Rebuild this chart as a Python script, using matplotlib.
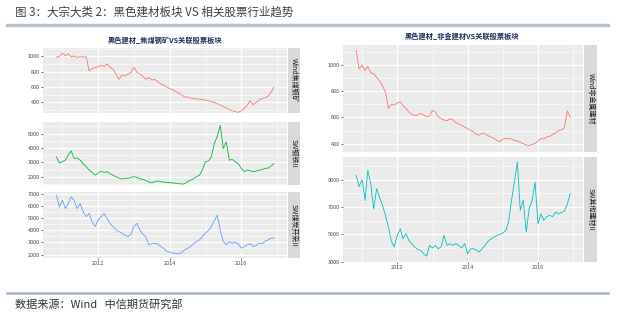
import pandas as pd
import matplotlib
matplotlib.use('Agg')
import matplotlib.pyplot as plt
import matplotlib.dates as mdates
from matplotlib.ticker import MultipleLocator
from matplotlib.lines import Line2D

plt.rcParams['font.family'] = ['Noto Sans CJK SC', 'DejaVu Sans']

# monthly readings, 2010-11 .. 2016-12
dates = pd.date_range('2010-11-01', '2016-12-01', freq='MS')

wind_coal = [990, 1000,
             1040, 1010, 1030, 995, 1005, 985, 1000, 990, 995, 810, 840, 855,
             865, 880, 870, 900, 860, 830, 770, 700, 760, 745, 770, 790,
             855, 790, 770, 740, 700, 720, 690, 700, 670, 640, 625, 600,
             580, 565, 545, 520, 500, 470, 470, 455, 450, 445, 440, 435,
             430, 420, 410, 400, 380, 365, 345, 330, 305, 290, 280, 270,
             290, 320, 360, 420, 370, 400, 430, 450, 460, 480, 530, 600]

sw_steel = [3380, 2950,
            3050, 3150, 3500, 3800, 3270, 3300, 3150, 2900, 2700, 2450, 2300, 2110,
            2250, 2390, 2300, 2350, 2200, 2100, 2000, 1900, 1840, 1900, 1880, 1950,
            2000, 1950, 1850, 1810, 1750, 1620, 1580, 1650, 1700, 1650, 1620, 1600,
            1580, 1560, 1540, 1520, 1490, 1500, 1650, 1750, 1850, 2000, 2100, 2500,
            3040, 3100, 3380, 4310, 4800, 5580, 3960, 4420, 3150, 3200, 3040, 2900,
            2600, 2350, 2460, 2420, 2350, 2400, 2450, 2500, 2580, 2600, 2750, 2920]

sw_coal = [6920, 5960,
           6500, 5820, 6230, 6780, 6500, 5820, 6230, 5550, 5140, 5410, 4700, 4320,
           4860, 5140, 5410, 5000, 4590, 4320, 4040, 3900, 3770, 3600, 3490, 3700,
           4320, 4590, 4040, 3700, 3490, 2810, 2900, 2950, 2850, 2670, 2500, 2260,
           2200, 2120, 2100, 2070, 2150, 2400, 2500, 2670, 2900, 3080, 3220, 3500,
           3770, 4000, 4320, 4800, 5270, 4000, 3100, 2810, 3080, 2950, 3000, 2900,
           2530, 2650, 2810, 2900, 2670, 2750, 2950, 2900, 3100, 3220, 3360, 3380]

wind_nonmetal = [1110, 970,
                 1000, 960, 990, 940, 935, 905, 880, 840, 790, 670, 700, 695,
                 710, 720, 690, 670, 640, 625, 615, 620, 630, 620, 605, 610,
                 655, 640, 605, 590, 580, 575, 590, 580, 560, 550, 540, 525,
                 515, 500, 490, 470, 465, 480, 475, 460, 450, 440, 425, 415,
                 435, 440, 440, 435, 425, 420, 410, 400, 390, 385, 395, 400,
                 420, 440, 435, 450, 455, 470, 480, 500, 505, 520, 650, 600]

sw_other = [9320, 8500,
            9000, 7490, 9680, 8710, 6880, 8340, 7700, 7120, 6390, 5540, 4500, 4070,
            4930, 5410, 4680, 5050, 4560, 4300, 4070, 3900, 3830, 3590, 3400, 4200,
            4000, 4200, 3950, 4100, 4930, 4200, 4320, 4200, 4320, 4200, 4000, 4320,
            3590, 3950, 3950, 3850, 3710, 3950, 4200, 4500, 4680, 4800, 4930, 5000,
            5100, 5290, 5900, 7490, 8830, 10290, 6760, 7490, 5170, 6880, 7500, 8830,
            5780, 6500, 6020, 6300, 6390, 6300, 6630, 6510, 6600, 6700, 7240, 7980]

W, H = 627, 316
fig = plt.figure(figsize=(6.27, 3.16), dpi=100)


def box(x0, y0, x1, y1):
    return [x0 / W, 1 - y1 / H, (x1 - x0) / W, (y1 - y0) / H]


def panel(x0, y0, x1, y1, sx1, values, color, ylim, major, offset, label, show_x):
    ax = fig.add_axes(box(x0, y0, x1, y1))
    ax.set_facecolor('#EBEBEB')
    ax.plot(dates, values, color=color, lw=0.6)
    ax.set_xlim(pd.Timestamp('2010-06-17'), pd.Timestamp('2017-04-12'))
    ax.set_ylim(*ylim)
    ax.yaxis.set_major_locator(MultipleLocator(major, offset=offset))
    ax.yaxis.set_minor_locator(MultipleLocator(major / 2, offset=offset))
    ax.xaxis.set_major_locator(mdates.YearLocator(2))
    ax.xaxis.set_minor_locator(mdates.YearLocator(1))
    ax.xaxis.set_major_formatter(mdates.DateFormatter('%Y'))
    ax.grid(which='major', color='white', lw=0.9)
    ax.grid(which='minor', color='white', lw=0.4)
    ax.set_axisbelow(True)
    for s in ax.spines.values():
        s.set_visible(False)
    ax.tick_params(which='major', length=1.5, width=0.5, color='#333333',
                   labelsize=4, labelcolor='#4D4D4D', pad=1)
    ax.tick_params(which='minor', length=0)
    if not show_x:
        ax.tick_params(axis='x', which='both', length=0, labelbottom=False)
    st = fig.add_axes(box(x1 + 1, y0, sx1, y1))
    st.set_facecolor('#D9D9D9')
    st.set_xticks([])
    st.set_yticks([])
    for s in st.spines.values():
        s.set_visible(False)
    st.text(0.5, 0.5, label, rotation=-90, ha='center', va='center',
            fontsize=5, color='#1A1A1A', transform=st.transAxes)
    return ax


panel(43, 48, 287, 113, 300, wind_coal, '#F8766D', (261, 1109), 200, 0, 'Wind焦煤钢矿', False)
panel(43, 122, 287, 185, 300, sw_steel, '#00BA38', (1420, 5810), 1000, 0, 'SW钢铁II', False)
panel(43, 192, 287, 258, 300, sw_coal, '#619CFF', (1710, 7190), 1000, 0, 'SW煤炭开采II', True)

panel(343, 45, 583, 152, 597, wind_nonmetal, '#F8766D', (336, 1153), 200, 0, 'Wind非金属建材', False)
panel(343, 157, 583, 262, 597, sw_other, '#00BFC4', (2980, 10660), 2000, 1000, 'SW其他建材II', True)

fig.text(165 / W, 1 - 40 / H, '黑色建材_焦煤钢矿VS关联股票板块', fontsize=5.2,
         fontweight='bold', color='#1F2D5C', ha='center', va='center')
fig.text(462 / W, 1 - 36 / H, '黑色建材_非金建材VS关联股票板块', fontsize=5.2,
         fontweight='bold', color='#1F2D5C', ha='center', va='center')

fig.text(15 / W, 1 - 12 / H, '图 3：大宗大类 2：黑色建材板块 VS 相关股票行业趋势',
         fontsize=8.3, color='#404040', va='center')
fig.add_artist(Line2D([7 / W, 608 / W], [1 - 25 / H] * 2, color='#B8C4CC', lw=2.5))
fig.add_artist(Line2D([7 / W, 608 / W], [1 - 293 / H] * 2, color='#A0B0C8', lw=1.8))
fig.text(15 / W, 1 - 304 / H, '数据来源：Wind   中信期货研究部',
         fontsize=8, color='#333333', va='center')

fig.savefig('out.png', dpi=100)
